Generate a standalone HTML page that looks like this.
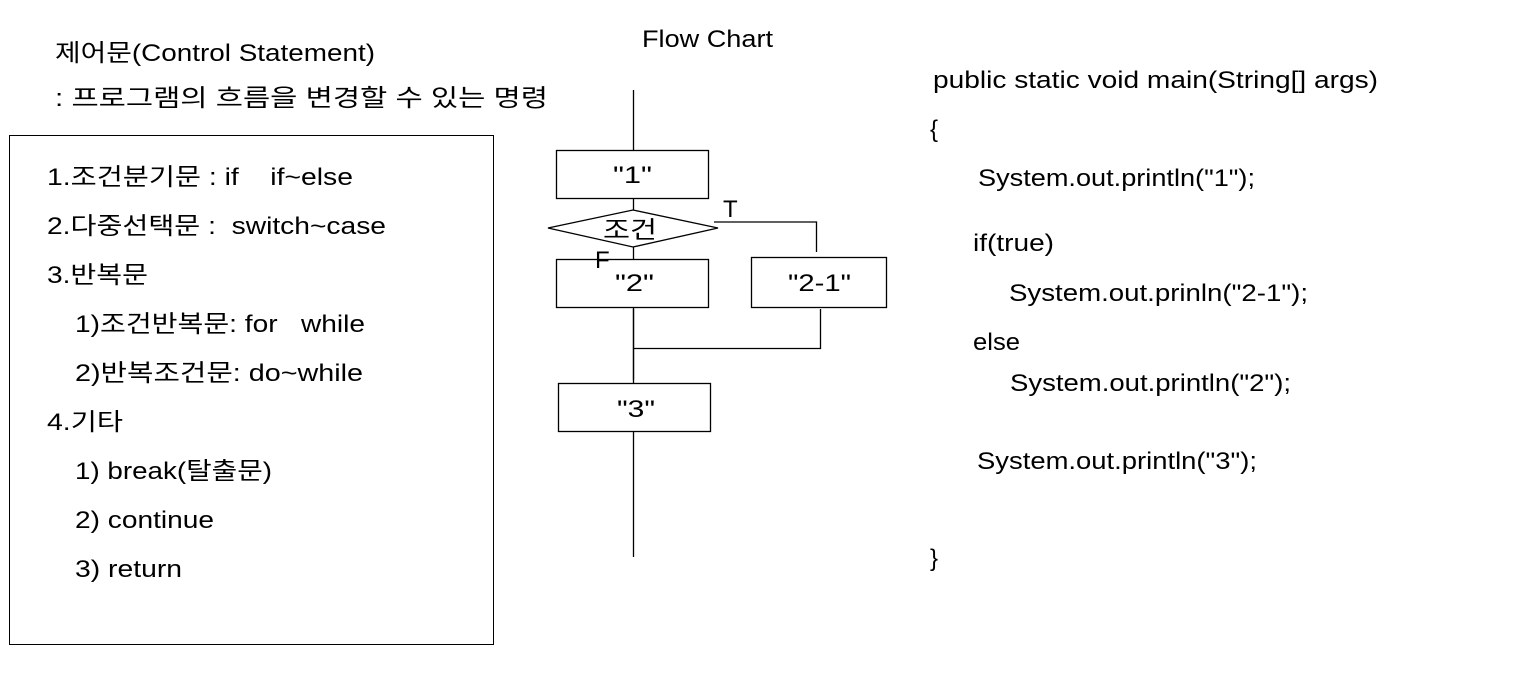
<!DOCTYPE html>
<html><head><meta charset="utf-8"><style>
body{margin:0;background:#fff;width:1522px;height:693px;overflow:hidden}
svg text{font-family:"Liberation Sans","Noto Sans CJK KR","NanumGothic",sans-serif;font-size:24px;fill:#000;white-space:pre}
</style></head><body>
<svg width="1522" height="693" xmlns="http://www.w3.org/2000/svg" xml:space="preserve">
<text x="55" y="61" textLength="320" lengthAdjust="spacingAndGlyphs">제어문(Control Statement)</text>
<text x="55" y="106" textLength="493" lengthAdjust="spacingAndGlyphs">: 프로그램의 흐름을 변경할 수 있는 명령</text>
<text x="47" y="185" textLength="306" lengthAdjust="spacingAndGlyphs">1.조건분기문 : if    if~else</text>
<text x="47" y="234" textLength="339" lengthAdjust="spacingAndGlyphs">2.다중선택문 :  switch~case</text>
<text x="47" y="283" textLength="101" lengthAdjust="spacingAndGlyphs">3.반복문</text>
<text x="75" y="332" textLength="290" lengthAdjust="spacingAndGlyphs">1)조건반복문: for   while</text>
<text x="75" y="381" textLength="288" lengthAdjust="spacingAndGlyphs">2)반복조건문: do~while</text>
<text x="47" y="430" textLength="76" lengthAdjust="spacingAndGlyphs">4.기타</text>
<text x="75" y="479" textLength="197" lengthAdjust="spacingAndGlyphs">1) break(탈출문)</text>
<text x="75" y="528" textLength="139" lengthAdjust="spacingAndGlyphs">2) continue</text>
<text x="75" y="577" textLength="107" lengthAdjust="spacingAndGlyphs">3) return</text>
<text x="642" y="47" textLength="131" lengthAdjust="spacingAndGlyphs">Flow Chart</text>
<rect x="9.5" y="135.5" width="484" height="509" fill="none" stroke="#000"/>
<g stroke="#000" fill="none" stroke-width="1.3">
<line x1="633.5" y1="90" x2="633.5" y2="557"/>
<rect x="556.5" y="150.5" width="152" height="48" fill="#fff"/>
<polygon points="548,228 633,210 718,228 633,247" fill="#fff"/>
<polyline points="714,222 816.5,222 816.5,252"/>
<rect x="556.5" y="259.5" width="152" height="48" fill="#fff"/>
<rect x="751.5" y="257.5" width="135" height="50" fill="#fff"/>
<line x1="633.5" y1="309" x2="633.5" y2="380"/>
<polyline points="820.5,309 820.5,348.5 633,348.5"/>
<rect x="558.5" y="383.5" width="152" height="48" fill="#fff"/>
</g>
<text x="613" y="183" textLength="39" lengthAdjust="spacingAndGlyphs">"1"</text>
<text x="603" y="238" textLength="54" lengthAdjust="spacingAndGlyphs">조건</text>
<text x="723" y="217" font-size="22">T</text>
<text x="595" y="268" font-size="22">F</text>
<text x="615" y="291" textLength="39" lengthAdjust="spacingAndGlyphs">"2"</text>
<text x="788" y="291" textLength="63" lengthAdjust="spacingAndGlyphs">"2-1"</text>
<text x="617" y="417" textLength="38" lengthAdjust="spacingAndGlyphs">"3"</text>
<text x="933" y="88" textLength="445" lengthAdjust="spacingAndGlyphs">public static void main(String[] args)</text>
<text x="930" y="137">{</text>
<text x="978" y="186" textLength="277" lengthAdjust="spacingAndGlyphs">System.out.println("1");</text>
<text x="973" y="251" textLength="81" lengthAdjust="spacingAndGlyphs">if(true)</text>
<text x="1009" y="301" textLength="299" lengthAdjust="spacingAndGlyphs">System.out.prinln("2-1");</text>
<text x="973" y="350" textLength="47" lengthAdjust="spacingAndGlyphs">else</text>
<text x="1010" y="391" textLength="281" lengthAdjust="spacingAndGlyphs">System.out.println("2");</text>
<text x="977" y="469" textLength="280" lengthAdjust="spacingAndGlyphs">System.out.println("3");</text>
<text x="930" y="566">}</text>
</svg>
</body></html>
